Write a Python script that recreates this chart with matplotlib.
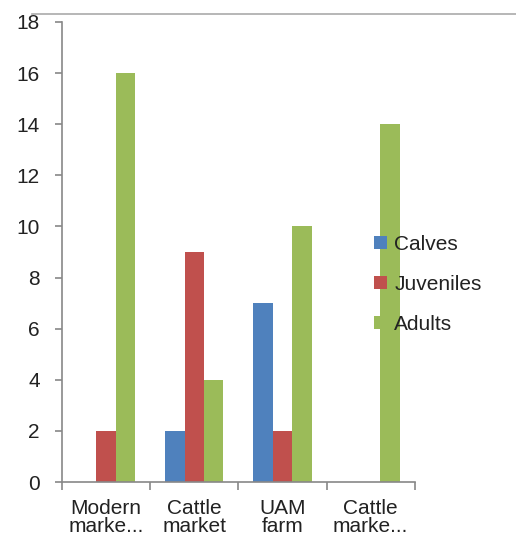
import numpy as np
import matplotlib.pyplot as plt
from matplotlib.lines import Line2D

plt.rcParams['font.family'] = ['Liberation Sans', 'DejaVu Sans']

categories = ['Modern\nmarke...', 'Cattle\nmarket', 'UAM\nfarm', 'Cattle\nmarke...']
series = ['Calves', 'Juveniles', 'Adults']
calves = [0, 2, 7, 0]
juveniles = [2, 9, 2, 0]
adults = [16, 4, 10, 14]
colors = ['#4f81bd', '#c0504d', '#9bbb59']

fig = plt.figure(figsize=(5.16, 5.49), dpi=100)
ax = fig.add_axes([0.120, 0.122, 0.684, 0.838])

x = np.arange(len(categories))
w = 0.22
for i, (name, vals) in enumerate(zip(series, [calves, juveniles, adults])):
    ax.bar(x + (i - 1) * w, vals, w, color=colors[i], label=name)

ax.set_xlim(-0.5, len(categories) - 0.5)
ax.set_ylim(0, 18)
ax.set_yticks(range(0, 19, 2))
ax.set_xticks(x)
ax.set_xticklabels(categories, fontsize=15, color='#222222', linespacing=0.95)
ax.set_xticks(np.arange(-0.5, len(categories), 1), minor=True)
ax.tick_params(axis='x', which='major', length=0, pad=12)
ax.tick_params(axis='x', which='minor', length=6, color='#888888', width=1.2)
ax.tick_params(axis='y', length=5, color='#888888', width=1.2, labelsize=15, labelcolor='#222222', pad=11)

for s in ['top', 'right']:
    ax.spines[s].set_visible(False)
for s in ['left', 'bottom']:
    ax.spines[s].set_color('#888888')
    ax.spines[s].set_linewidth(1.2)

ax.legend(loc='center left', bbox_to_anchor=(0.83, 0.43), frameon=False, fontsize=15,
          handlelength=0.65, handleheight=0.6, handletextpad=0.35, labelspacing=1.0,
          labelcolor='#222222')

fig.add_artist(Line2D([32 / 516, 1.0], [1 - 14 / 549, 1 - 14 / 549], color='#aaaaaa', lw=1.2))

fig.savefig('out.png', dpi=100)
